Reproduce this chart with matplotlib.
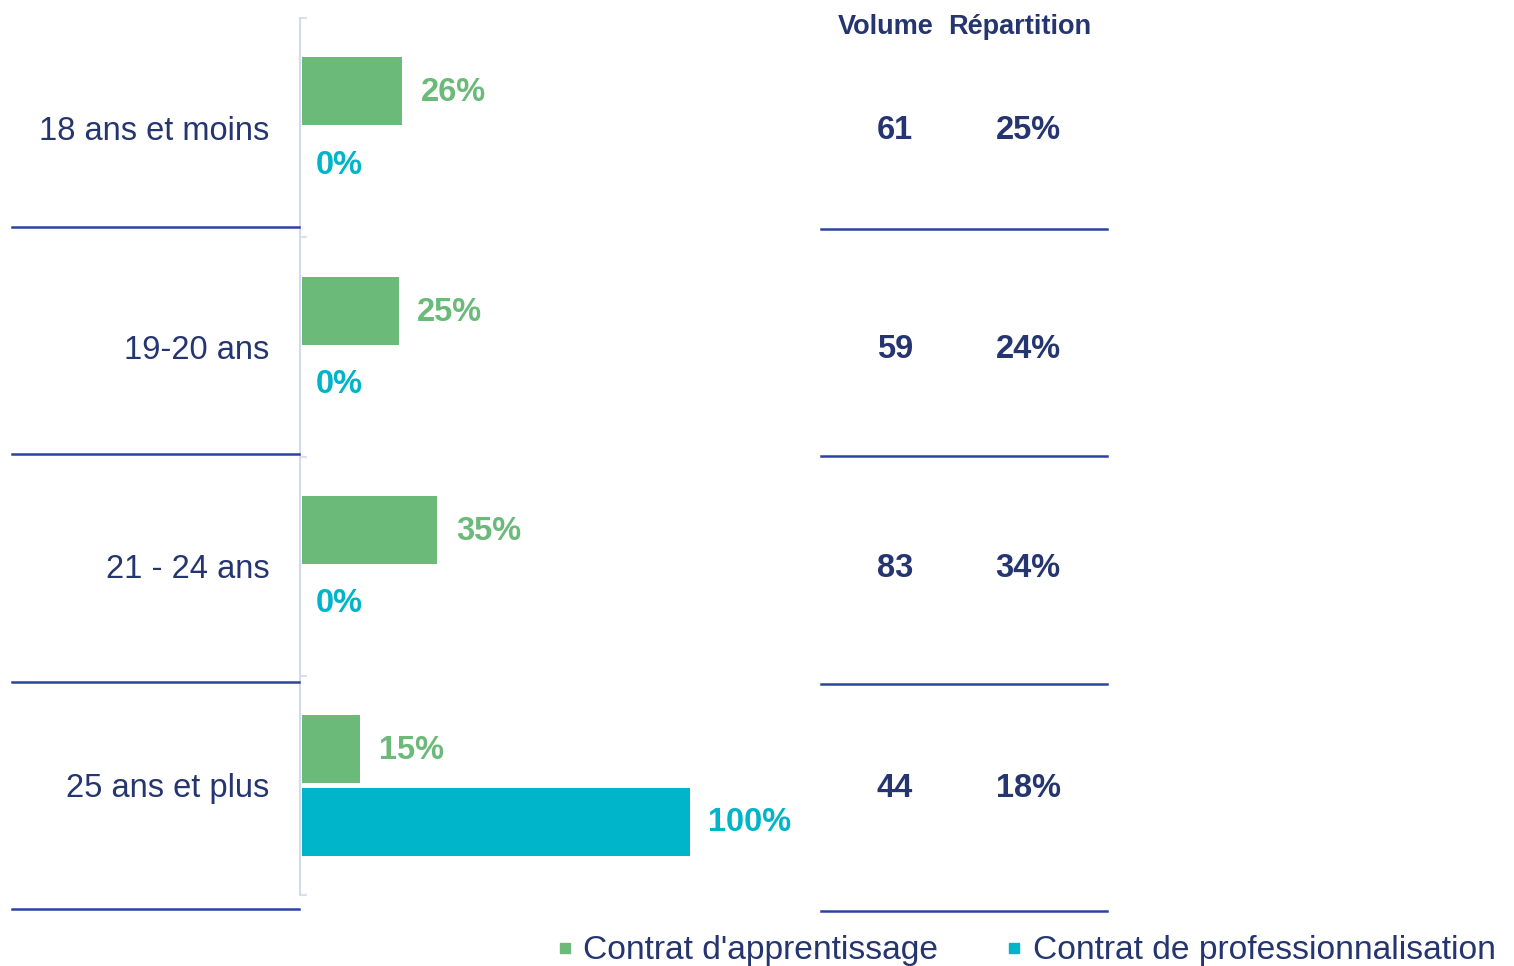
import matplotlib
matplotlib.use("Agg")
import matplotlib.pyplot as plt
from matplotlib.lines import Line2D
import numpy as np

categories = ["18 ans et moins", "19-20 ans", "21 - 24 ans", "25 ans et plus"]
apprentissage = [26, 25, 35, 15]
professionnalisation = [0, 0, 0, 100]
volume = [61, 59, 83, 44]
repartition = [25, 24, 34, 18]
series_names = ["Contrat d'apprentissage", "Contrat de professionnalisation"]

GREEN = "#6BBA7A"
CYAN = "#00B4C9"
NAVY = "#253570"
LINE = "#2C43A0"
AXIS = "#D3DAF0"

W, H = 1514, 966
fig = plt.figure(figsize=(W / 100, H / 100), dpi=100)
plt.rcParams['font.family'] = ['Liberation Sans', 'DejaVu Sans']

def fx(px):
    return px / W

def fy(py):
    return 1 - py / H

# main axes: from x=300 px, y 18..895 px
ax_left, ax_top, ax_bottom = 300, 18, 895
ax_right = 820
ax = fig.add_axes([fx(ax_left), fy(ax_bottom), fx(ax_right - ax_left), (ax_bottom - ax_top) / H])
px_per_unit = (689 - 301) / 100.0
ax.set_xlim(0, (ax_right - ax_left) / px_per_unit)
n = len(categories)
ax.set_ylim(n, 0)

centers = np.arange(n) + 0.5
off = 0.165
bh = 0.31
ax.barh(centers - off, apprentissage, height=bh, color=GREEN, left=0.4)
ax.barh(centers + off, professionnalisation, height=bh, color=CYAN, left=0.4)

VS = 23.5
for c, v in zip(centers, apprentissage):
    ax.annotate(f"{v}%", (v + 0.4, c - off), xytext=(13.5, -1), textcoords="offset points",
                va="center", ha="left", fontsize=VS, fontweight="bold", color=GREEN)
for c, v in zip(centers, professionnalisation):
    ax.annotate(f"{v}%", (v + 0.4, c + off), xytext=(10 if v == 0 else 13.5, -1),
                textcoords="offset points",
                va="center", ha="left", fontsize=VS, fontweight="bold", color=CYAN)

for s in ["top", "right", "bottom"]:
    ax.spines[s].set_visible(False)
ax.spines["left"].set_color(AXIS)
ax.spines["left"].set_linewidth(1.5)
ax.set_xticks([])
ax.set_yticks(np.arange(n + 1))
ax.set_yticklabels([])
ax.tick_params(axis="y", which="major", direction="in", length=5, color=AXIS, width=1.2)
ax.set_yticks(centers, minor=True)
ax.set_yticklabels(categories, minor=True)
ax.tick_params(axis="y", which="minor", length=0, pad=22, labelsize=23.5, labelcolor=NAVY)

# table columns (aligned to category rows)
tr = matplotlib.transforms.blended_transform_factory(fig.transFigure, ax.transData)
for c, v, r in zip(centers, volume, repartition):
    ax.annotate(f"{v}", (fx(895), c), xycoords=tr, xytext=(0, -2), textcoords="offset points",
                ha="center", va="center", fontsize=VS, fontweight="bold", color=NAVY)
    ax.annotate(f"{r}%", (fx(1028), c), xycoords=tr, xytext=(0, -2), textcoords="offset points",
                ha="center", va="center", fontsize=VS, fontweight="bold", color=NAVY)
fig.text(fx(886), fy(27), "Volume", ha="center", va="center", fontsize=19.5,
         fontweight="bold", color=NAVY)
fig.text(fx(1020), fy(27), "Répartition", ha="center", va="center", fontsize=19.5,
         fontweight="bold", color=NAVY)

# separator lines
for yl, yr in [(227, 229), (454, 456), (682, 684), (909, 911)]:
    fig.add_artist(Line2D([fx(12), fx(299)], [fy(yl), fy(yl)], color=LINE, lw=1.8))
    fig.add_artist(Line2D([fx(821), fx(1107)], [fy(yr), fy(yr)], color=LINE, lw=1.8))

# legend
handles = [Line2D([], [], marker="s", linestyle="none", markersize=7.5, color=GREEN),
           Line2D([], [], marker="s", linestyle="none", markersize=7.5, color=CYAN)]
leg = fig.legend(handles, series_names, loc="center", bbox_to_anchor=(fx(1026), fy(951)),
                 ncol=2, frameon=False, handlelength=0.5, handletextpad=0.3,
                 columnspacing=2.0,
                 prop={"family": ["Liberation Sans"], "size": 24.2})
for t in leg.get_texts():
    t.set_color(NAVY)

fig.savefig("out.png", dpi=100)
